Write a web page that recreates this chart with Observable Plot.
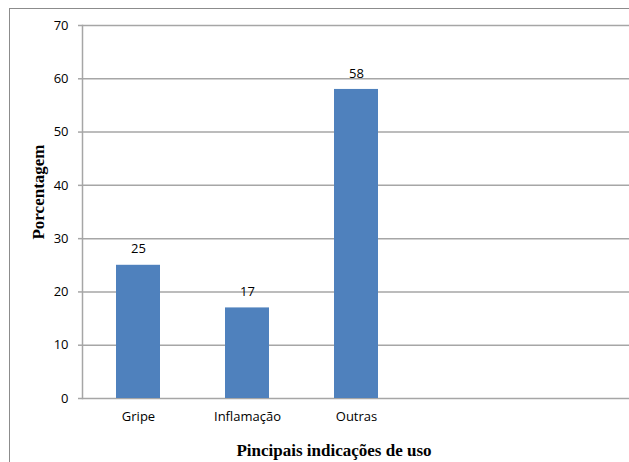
<!DOCTYPE html>
<html><head><meta charset="utf-8">
<script src="https://cdn.jsdelivr.net/npm/d3@7"></script>
<script src="https://cdn.jsdelivr.net/npm/@observablehq/plot@0.6"></script>
<style>
body{margin:0;background:#fff}
#wrap{position:relative;width:629px;height:462px;overflow:hidden}
#border{position:absolute;left:9px;top:8px;width:700px;height:600px;border:1px solid #8c8c8c;box-sizing:border-box;pointer-events:none}
#wrap svg{position:absolute;left:0;top:0}
</style>
</head><body><div id="wrap"><div id="border"></div></div>
<script>
const categories = ["Gripe", "Inflamação", "Outras"];
const values = [25, 17, 58];
const emptySlots = ["_4", "_5"];
const yTicks = [0, 10, 20, 30, 40, 50, 60, 70];
const yLabel = "Porcentagem";
const xLabel = "Pincipais indicações de uso";

const data = categories.map((c, i) => ({category: c, value: values[i]}));
const serif = "'Liberation Serif', 'Times New Roman', serif";

const chart = Plot.plot({
  width: 629, height: 462,
  marginLeft: 82, marginRight: 0, marginTop: 25, marginBottom: 64,
  style: {fontFamily: "'Open Sans', sans-serif", fontSize: "13px", background: "transparent", overflow: "visible", color: "#000"},
  x: {domain: categories.concat(emptySlots), paddingInner: 0.6, paddingOuter: 0.3, label: null},
  y: {domain: [0, 70], label: null},
  marks: [
    Plot.gridY(yTicks, {stroke: "#a6a6a6", strokeOpacity: 1, strokeWidth: 1.5}),
    Plot.frame({anchor: "left", stroke: "#a6a6a6", strokeWidth: 1.5}),
    Plot.axisY(yTicks, {tickSize: 4, tickPadding: 10, stroke: "#a6a6a6", strokeWidth: 1.5, fill: "#000", label: null}),
    Plot.axisX({tickSize: 0, tickPadding: 13, fill: "#000", tickFormat: d => emptySlots.includes(d) ? "" : d, label: null}),
    Plot.barY(data, {x: "category", y: "value", fill: "#4f81bd"}),
    Plot.text(data, {x: "category", y: "value", text: d => String(d.value), dy: -16, fill: "#000"}),
    Plot.text([yLabel], {frameAnchor: "left", textAnchor: "middle", lineAnchor: "middle", rotate: -90, dx: -44, dy: -20, fontFamily: serif, fontWeight: "bold", fontSize: 17, fill: "#000"}),
    Plot.text([xLabel], {frameAnchor: "bottom", textAnchor: "middle", lineAnchor: "middle", dx: -22, dy: 52, fontFamily: serif, fontWeight: "bold", fontSize: 17, fill: "#000"})
  ]
});
document.getElementById("wrap").appendChild(chart);
</script>
</body></html>
